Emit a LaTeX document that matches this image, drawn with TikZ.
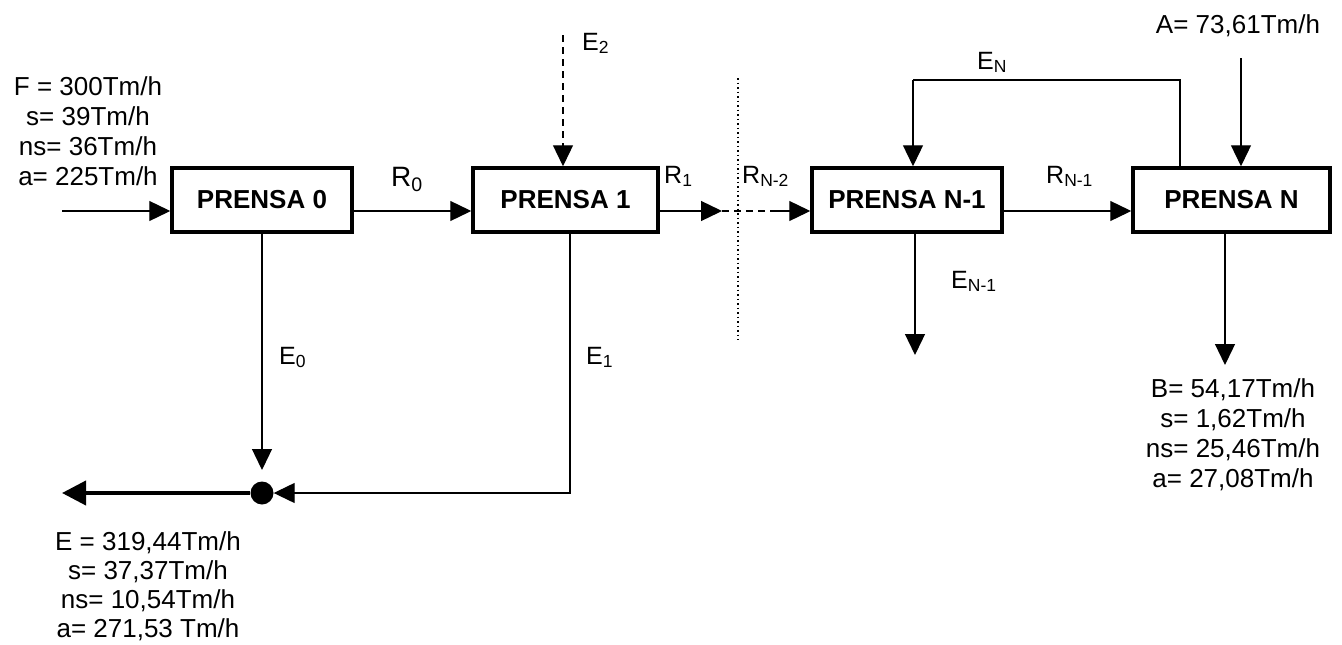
\documentclass[tikz,border=0pt]{standalone}
\usepackage{fontspec}
\setmainfont{Liberation Sans}
\usetikzlibrary{arrows.meta}
\begin{document}
\begin{tikzpicture}[x=1pt,y=-1pt,
  box/.style={draw,line width=3.5pt,inner sep=0pt,minimum height=64pt,font=\fontsize{26}{30}\selectfont\bfseries},
  flow/.style={line width=1.3pt,-{Triangle[length=21pt,width=20pt]}},
  bigflow/.style={line width=4pt,-{Triangle[length=24pt,width=24pt]}},
  lbl/.style={font=\fontsize{25}{30}\selectfont,inner sep=0pt,anchor=base west},
  info/.style={font=\fontsize{26}{30}\selectfont,align=center,inner sep=0pt}]
\useasboundingbox (0,0) rectangle (1342,645);
% presses
\node[box,minimum width=180pt] (p0) at (262,200) {PRENSA 0};
\node[box,minimum width=185pt] (p1) at (565.5,200) {PRENSA 1};
\node[box,minimum width=190pt] (pN1) at (907,200) {PRENSA N-1};
\node[box,minimum width=197pt] (pN) at (1231.5,200) {PRENSA N};
% main flow
\coordinate (in) at (62,211);
\coordinate (r1end) at (722,211);
\coordinate (dstart) at (772,211);
\draw[flow] (in) -- (in -| p0.west);
\draw[flow] (p0.east |- in) -- (p1.west |- in);
\draw[flow] (p1.east |- in) -- (r1end);
\draw[line width=1.3pt,dash pattern=on 7pt off 5pt] (r1end) -- (dstart);
\draw[flow] (dstart) -- (pN1.west |- in);
\draw[flow] (pN1.east |- in) -- (pN.west |- in);
% dotted separator
\coordinate (sepT) at (738,78);
\coordinate (sepB) at (738,340);
\draw[line width=1.2pt,dash pattern=on 1.5pt off 3pt] (sepT) -- (sepB);
% E2 dashed input
\coordinate (e2s) at (563,35);
\draw[flow,dash pattern=on 7pt off 5pt] (e2s) -- (e2s |- p1.north);
% E_N recycle
\coordinate (loopA) at (1180,80);
\coordinate (loopB) at (913,80);
\draw[line width=1.3pt] (loopA |- pN.north) -- (loopA) -- (loopB);
\draw[flow] (loopB) -- (loopB |- pN1.north);
% A input
\coordinate (as) at (1241,58);
\draw[flow] (as) -- (as |- pN.north);
% outputs
\node[circle,fill,inner sep=0pt,minimum size=23pt] (dot) at (262,493) {};
\coordinate (e0end) at (262,470);
\draw[flow] (p0.south -| e0end) -- (e0end);
\coordinate (e1c) at (570,493);
\draw[flow] (p1.south -| e1c) -- (e1c) -- (dot.east);
\coordinate (eout) at (62,493);
\draw[bigflow] (dot.west) -- (eout);
\coordinate (en1end) at (915,355);
\draw[flow] (pN1.south -| en1end) -- (en1end);
\coordinate (bend) at (1225,365);
\draw[flow] (pN.south -| bend) -- (bend);
% labels
\node[lbl,font=\fontsize{28}{32}\selectfont] (lR0) at (391,186) {R\textsubscript{0}};
\node[lbl] (lR1) at (664,183) {R\textsubscript{1}};
\node[lbl] (lRN2) at (742,183) {R\textsubscript{N-2}};
\node[lbl] (lRN1) at (1046,183) {R\textsubscript{N-1}};
\node[lbl] (lE2) at (582,50) {E\textsubscript{2}};
\node[lbl] (lEN) at (977,69) {E\textsubscript{N}};
\node[lbl] (lE0) at (279,364) {E\textsubscript{0}};
\node[lbl] (lE1) at (586,364) {E\textsubscript{1}};
\node[lbl] (lEN1) at (951,288) {E\textsubscript{N-1}};
% stream data
\node[info,anchor=north] (F) at (88,76) {F = 300Tm/h\\ s= 39Tm/h\\ ns= 36Tm/h\\ a= 225Tm/h};
\node[info,anchor=north,font=\fontsize{26}{29.3}\selectfont] (E) at (148,531) {E = 319,44Tm/h\\ s= 37,37Tm/h\\ ns= 10,54Tm/h\\ a= 271,53 Tm/h};
\node[info,anchor=north] (B) at (1233,378) {B= 54,17Tm/h\\ s= 1,62Tm/h\\ ns= 25,46Tm/h\\ a= 27,08Tm/h};
\node[info,anchor=base] (A) at (1238,33) {A= 73,61Tm/h};
\end{tikzpicture}
\end{document}
